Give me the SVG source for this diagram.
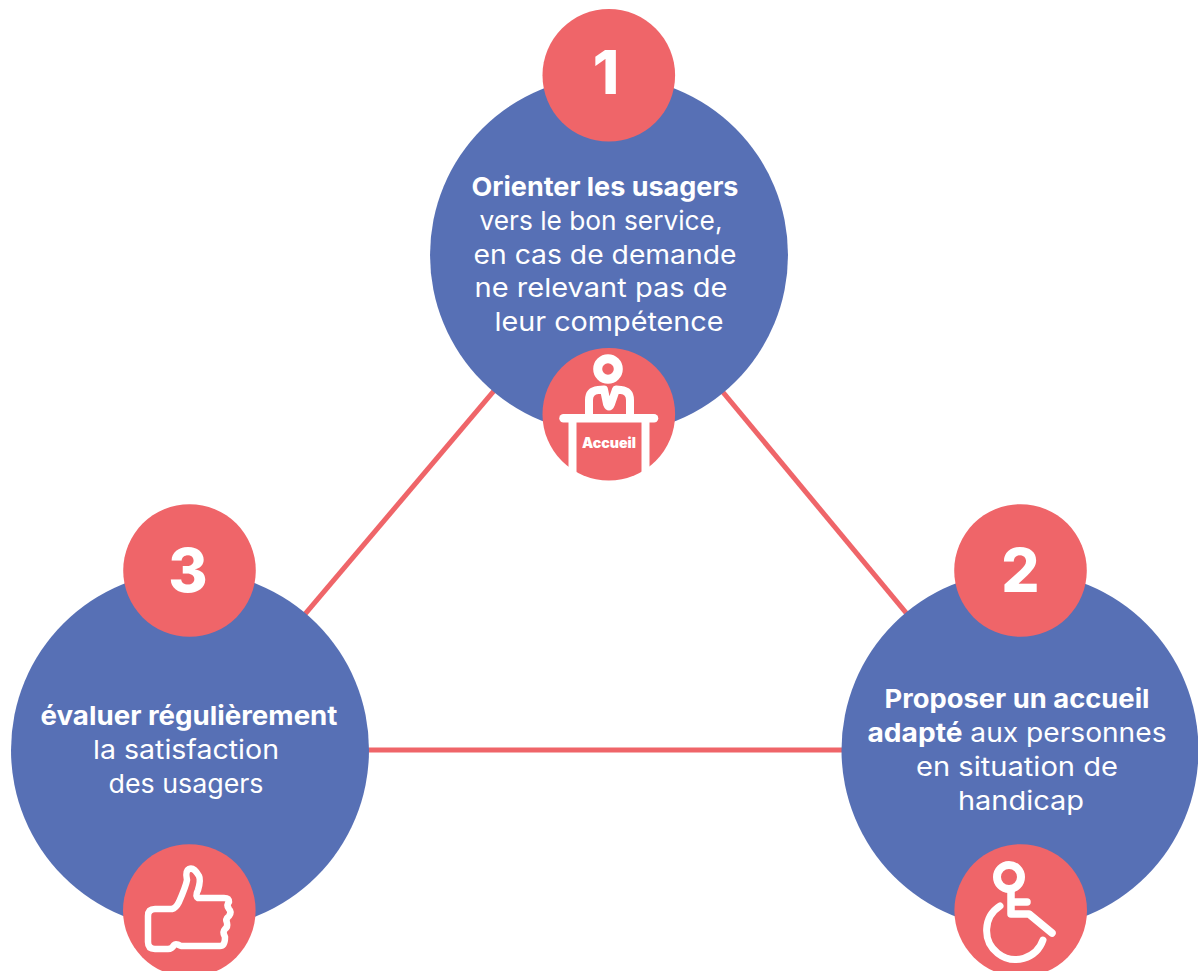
<svg xmlns="http://www.w3.org/2000/svg" width="1198" height="971" viewBox="0 0 1198 971">
<style>
.big{fill:#5770b5}.small{fill:#ef6569}
.link{stroke:#ef6569;stroke-width:5;fill:none}
.ic{fill:none;stroke:#fff;stroke-linecap:round;stroke-linejoin:round}
text{font-family:"Inter","Noto Sans","Liberation Sans",sans-serif;fill:#fff;text-anchor:middle}
.t{font-size:26px}
.b{font-weight:700}
.num{font-size:60px;font-weight:800}
</style>
<rect width="1198" height="971" fill="#fff"/>
<g id="connectors">
<line class="link" x1="609" y1="255" x2="190" y2="750"/>
<line class="link" x1="609" y1="255" x2="1020" y2="750"/>
<line class="link" x1="190" y1="750" x2="1020" y2="750"/>
</g>
<g id="node-1">
<circle class="big" cx="609" cy="255" r="179"/>
<circle class="small" cx="608.800" cy="75.300" r="66.300"/>
<text class="num" x="606" y="94">1</text>
<text class="t" x="605" y="196" textLength="267" lengthAdjust="spacingAndGlyphs"><tspan class="b">Orienter les usagers</tspan></text>
<text class="t" x="601" y="230" textLength="243" lengthAdjust="spacingAndGlyphs">vers le bon service,</text>
<text class="t" x="605" y="263.500" textLength="263" lengthAdjust="spacingAndGlyphs">en cas de demande</text>
<text class="t" x="601" y="297" textLength="253" lengthAdjust="spacingAndGlyphs">ne relevant pas de</text>
<text class="t" x="609" y="330.500" textLength="229" lengthAdjust="spacingAndGlyphs">leur compétence</text>
<circle class="small" cx="608.800" cy="414.200" r="66.300"/>
<g id="icon-accueil">
<circle class="ic" stroke-width="9" cx="608" cy="369" r="10.300"/>
<path class="ic" stroke-width="8" d="M589 416V400Q589 391 598 390L604 389.500L607 404Q609 409 611 404L616 389.500L621 390Q630 391 630 400V416"/>
<line class="ic" stroke-width="8.500" x1="563.500" y1="418.300" x2="654" y2="418.300"/>
<path fill="none" stroke="#fff" stroke-width="8" d="M572.500 420V472M645.500 420V472"/>
<text x="609" y="447.500" font-size="14" font-weight="900" textLength="54" lengthAdjust="spacingAndGlyphs">Accueil</text>
</g>
</g>
<g id="node-2">
<circle class="big" cx="1020" cy="750" r="178.500"/>
<circle class="small" cx="1020.500" cy="570.500" r="66.300"/>
<text class="num" x="1020.500" y="591.500">2</text>
<text class="t" x="1017" y="708" textLength="265" lengthAdjust="spacingAndGlyphs"><tspan class="b">Proposer un accueil</tspan></text>
<text class="t" x="1017" y="742" textLength="299" lengthAdjust="spacingAndGlyphs"><tspan class="b">adapté</tspan> aux personnes</text>
<text class="t" x="1017" y="775.500" textLength="202" lengthAdjust="spacingAndGlyphs">en situation de</text>
<text class="t" x="1021" y="809.500" textLength="126" lengthAdjust="spacingAndGlyphs">handicap</text>
<circle class="small" cx="1020.700" cy="910.500" r="66.300"/>
<g id="icon-handicap">
<circle class="ic" stroke-width="8" cx="1009" cy="877" r="12"/>
<path class="ic" stroke-width="7.500" d="M1011 890V914H1029L1052 933"/>
<path class="ic" stroke-width="7.500" d="M1012 902H1027"/>
<path class="ic" stroke-width="7" d="M1000 906A29 29 0 1 0 1043 940"/>
</g>
</g>
<g id="node-3">
<circle class="big" cx="190" cy="750" r="179"/>
<circle class="small" cx="189.500" cy="570.500" r="66.300"/>
<text class="num" x="188" y="591.500">3</text>
<text class="t" x="189" y="725" textLength="297" lengthAdjust="spacingAndGlyphs"><tspan class="b">évaluer régulièrement</tspan></text>
<text class="t" x="186" y="758.500" textLength="186" lengthAdjust="spacingAndGlyphs">la satisfaction</text>
<text class="t" x="186" y="792.500" textLength="155" lengthAdjust="spacingAndGlyphs">des usagers</text>
<circle class="small" cx="189.300" cy="910.500" r="66.300"/>
<g id="icon-thumb">
<path class="ic" stroke-width="6.500" d="M172 909H155Q148 909 148 916V942Q148 949 155 949H168Q172 949 174 945Q176 943 181 946H220Q225 946 225 937Q222 932 225 929Q228 927 227 923Q225 919 229 916Q232 912 229 909Q226 905 229 902Q229 898 224 898H198Q195 896 198 890Q201 880 199 876Q194 867 189 869Q185 871 187 880Q186 886 179 902Q176 908 172 909Z"/>
</g>
</g>
</svg>
